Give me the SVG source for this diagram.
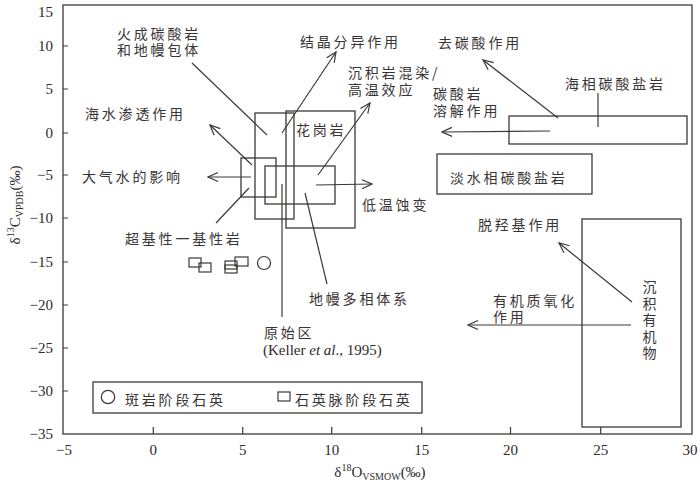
<svg xmlns="http://www.w3.org/2000/svg" width="700" height="485" viewBox="0 0 700 485">
<style>
.ln{stroke:#3d3838;stroke-width:1.2;fill:none}
.bx{stroke:#3d3838;stroke-width:1.3;fill:none}
.cn{font-family:"Noto Sans CJK SC","Noto Sans",sans-serif;font-size:14px;fill:#3a3535;letter-spacing:2.8px}
.nm{font-family:"Liberation Serif","Times New Roman",serif;font-size:15px;fill:#2e2a2a}
</style>
<defs>
<marker id="ah" markerWidth="12" markerHeight="12" refX="11" refY="6" orient="auto" markerUnits="userSpaceOnUse">
<path d="M1,1.5 L11,6 L1,10.5" fill="none" stroke="#3d3838" stroke-width="1.2"/>
</marker>
</defs>
<rect width="700" height="485" fill="#fff"/>
<g id="axes">
<rect x="63" y="5" width="629" height="429" class="bx" stroke-width="1.5"/>
<path class="ln" d="M153.3,434v-7M242.7,434v-7M331.7,434v-7M421.7,434v-7M510.5,434v-7M600.7,434v-7M63,46h5M63,89h5M63,133h5M63,175h5M63,218h5M63,262h5M63,305h5M63,348h5M63,391h5"/>
<g class="nm" text-anchor="end">
<text x="53" y="17">15</text><text x="53" y="51">10</text><text x="53" y="94">5</text><text x="53" y="138">0</text>
<text x="53" y="180">−5</text><text x="53" y="223">−10</text><text x="53" y="267">−15</text><text x="53" y="310">−20</text>
<text x="53" y="353">−25</text><text x="53" y="396">−30</text><text x="53" y="439">−35</text>
</g>
<g class="nm" text-anchor="middle">
<text x="64" y="455">−5</text><text x="153.3" y="455">0</text><text x="242.7" y="455">5</text><text x="331.7" y="455">10</text>
<text x="421.7" y="455">15</text><text x="510.5" y="455">20</text><text x="600.7" y="455">25</text><text x="690" y="455">30</text>
</g>
<text class="nm" x="380" y="477" font-size="16" text-anchor="middle">δ<tspan font-size="10" dy="-6">18</tspan><tspan dy="6">O</tspan><tspan font-size="10" dy="3">VSMOW</tspan><tspan dy="-3">(‰)</tspan></text>
<text class="nm" font-size="16" transform="translate(20,205) rotate(-90)" text-anchor="middle">δ<tspan font-size="10" dy="-6">13</tspan><tspan dy="6">C</tspan><tspan font-size="10" dy="3">VPDB</tspan><tspan dy="-3">(‰)</tspan></text>
</g>
<g id="boxes">
<rect id="box-a" class="bx" x="255" y="113" width="39" height="106"/>
<rect id="box-granite" class="bx" x="286" y="111" width="69" height="117"/>
<rect id="box-c" class="bx" x="241" y="158" width="35" height="39"/>
<rect id="box-d" class="bx" x="265" y="166" width="70" height="38"/>
<rect id="box-fresh" class="bx" x="437" y="154" width="155" height="40"/>
<rect id="box-marine" class="bx" x="509" y="116" width="178" height="28"/>
<rect id="box-organic" class="bx" x="582" y="219" width="99" height="208"/>
</g>
<g id="connectors">
<line class="ln" x1="282" y1="133" x2="336" y2="52" marker-end="url(#ah)"/>
<line class="ln" x1="318" y1="175" x2="370" y2="103" marker-end="url(#ah)"/>
<line class="ln" x1="316" y1="185" x2="372" y2="184" marker-end="url(#ah)"/>
<line class="ln" x1="252" y1="165" x2="210" y2="125" marker-end="url(#ah)"/>
<line class="ln" x1="251" y1="177" x2="208" y2="177" marker-end="url(#ah)"/>
<line class="ln" x1="558" y1="118" x2="483" y2="60" marker-end="url(#ah)"/>
<line class="ln" x1="550" y1="131" x2="442" y2="132" marker-end="url(#ah)"/>
<line class="ln" x1="632" y1="302" x2="559" y2="243" marker-end="url(#ah)"/>
<line class="ln" x1="631" y1="325" x2="468" y2="325" marker-end="url(#ah)"/>
<line class="ln" x1="192" y1="63" x2="267" y2="135"/>
<line class="ln" x1="216" y1="223" x2="249" y2="188"/>
<line class="ln" x1="282" y1="184" x2="282" y2="317"/>
<line class="ln" x1="305" y1="193" x2="327" y2="284"/>
<line class="ln" x1="598" y1="93" x2="598" y2="127"/>
</g>
<g id="labels">
<text class="cn" x="117" y="39">火成碳酸岩</text>
<text class="cn" x="117" y="55">和地幔包体</text>
<text class="cn" x="85" y="119">海水渗透作用</text>
<text class="cn" x="82" y="182">大气水的影响</text>
<text class="cn" x="125" y="244" letter-spacing="3">超基性一基性岩</text>
<text class="cn" x="300" y="47">结晶分异作用</text>
<text class="cn" x="348" y="78">沉积岩混染/</text>
<text class="cn" x="348" y="95">高温效应</text>
<text class="cn" x="296" y="135">花岗岩</text>
<text class="cn" x="362" y="210">低温蚀变</text>
<text class="cn" x="438" y="48">去碳酸作用</text>
<text class="cn" x="433" y="99">碳酸岩</text>
<text class="cn" x="433" y="116">溶解作用</text>
<text class="cn" x="565" y="89">海相碳酸盐岩</text>
<text class="cn" x="450" y="183">淡水相碳酸盐岩</text>
<text class="cn" x="478" y="230">脱羟基作用</text>
<text class="cn" x="493" y="306">有机质氧化</text>
<text class="cn" x="493" y="322">作用</text>
<text class="cn" x="309" y="304">地幔多相体系</text>
<text class="cn" x="264" y="338">原始区</text>
<text class="nm" x="263" y="355">(Keller <tspan font-style="italic">et al</tspan>., 1995)</text>
<text class="cn" text-anchor="middle" letter-spacing="0"><tspan x="651" y="292">沉</tspan><tspan x="651" y="308.5">积</tspan><tspan x="651" y="325">有</tspan><tspan x="651" y="341.5">机</tspan><tspan x="651" y="358">物</tspan></text>
</g>
<g id="data">
<rect class="ln" x="189" y="258" width="12" height="9"/>
<rect class="ln" x="199" y="263" width="12" height="9"/>
<rect class="ln" x="225" y="261" width="12" height="8"/>
<rect class="ln" x="225" y="265" width="12" height="8"/>
<rect class="ln" x="235" y="257" width="13" height="9"/>
<circle class="ln" cx="264" cy="263" r="6.5"/>
</g>
<g id="legend">
<rect class="bx" x="93" y="382" width="329" height="31"/>
<circle class="ln" cx="108" cy="397" r="6.7"/>
<text class="cn" x="125" y="405">斑岩阶段石英</text>
<rect class="ln" x="278" y="392" width="12" height="9"/>
<text class="cn" x="295" y="405">石英脉阶段石英</text>
</g>
</svg>
